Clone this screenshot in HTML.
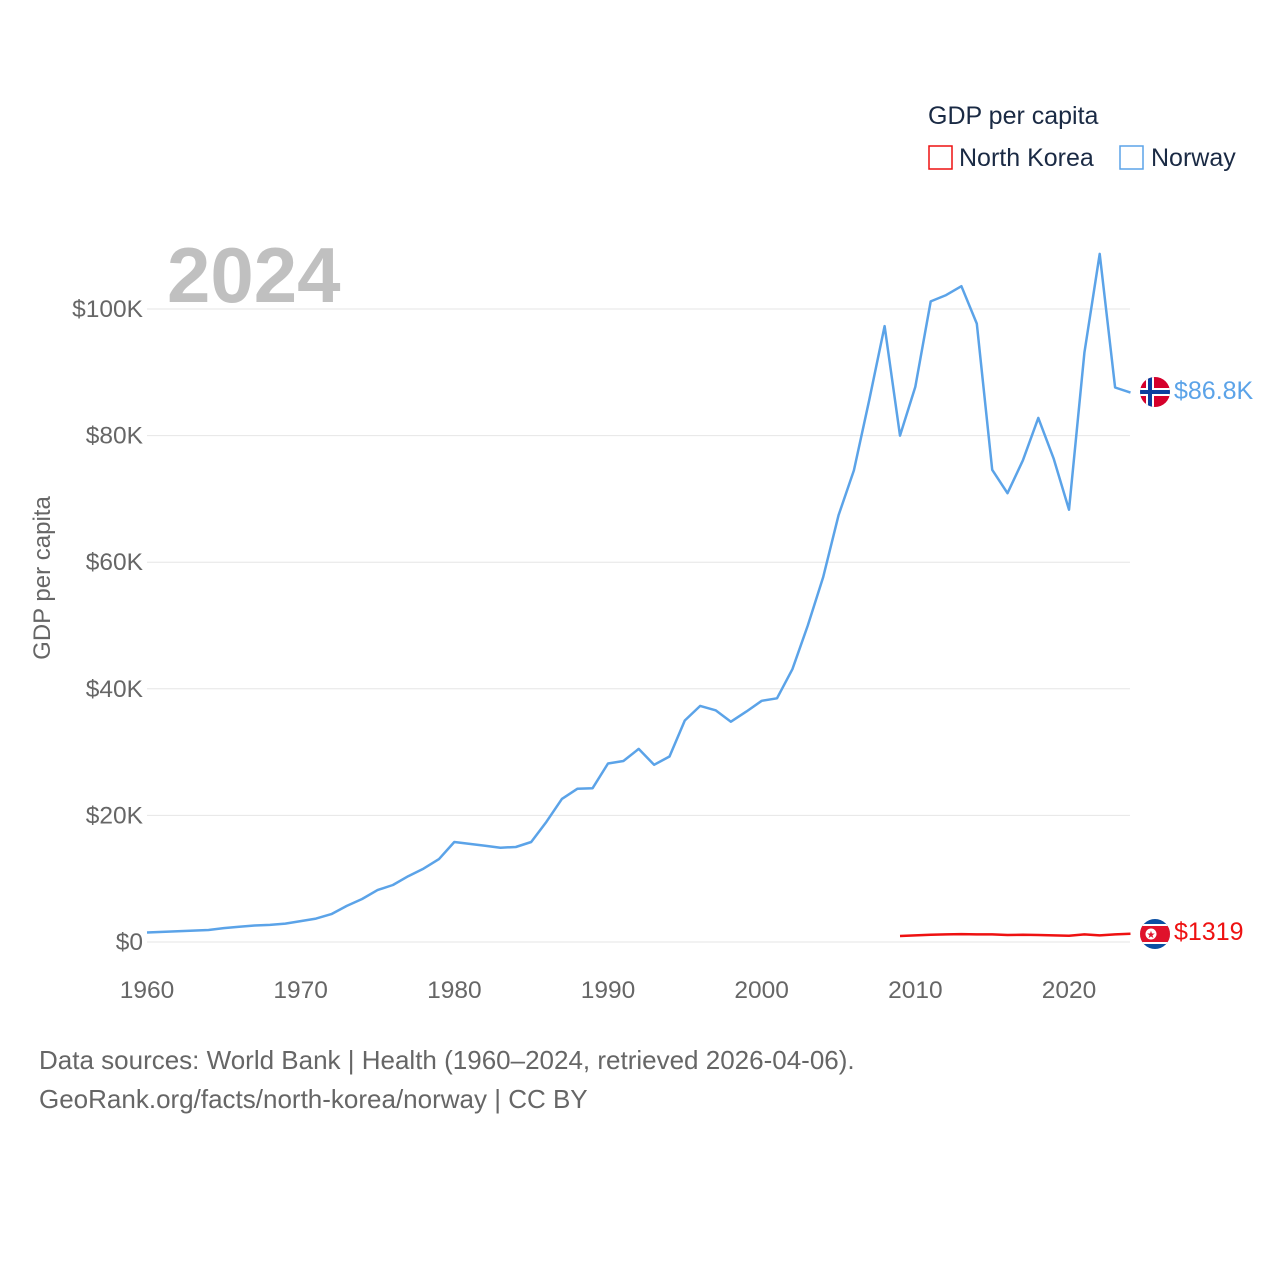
<!DOCTYPE html>
<html><head><meta charset="utf-8"><style>
body{margin:0;background:#fff;font-family:"Liberation Sans",sans-serif;}
svg text{font-family:"Liberation Sans",sans-serif;}
</style></head><body>
<svg width="1280" height="1280" viewBox="0 0 1280 1280">
<defs>
<clipPath id="cno"><circle cx="1155" cy="392" r="15"/></clipPath>
<clipPath id="ckp"><circle cx="1155" cy="934" r="15"/></clipPath>
</defs>
<text x="928" y="124" font-size="25" fill="#1a2a44">GDP per capita</text>
<g><rect x="929" y="146" width="23" height="23" fill="none" stroke="#ee1111" stroke-width="1.5"/><text x="959" y="166" font-size="25" fill="#1a2a44">North Korea</text></g>
<g><rect x="1120" y="146" width="23" height="23" fill="none" stroke="#5ba3e8" stroke-width="1.5"/><text x="1151" y="166" font-size="25" fill="#1a2a44">Norway</text></g>
<text x="167" y="302" font-size="78" font-weight="bold" fill="#c0c0c0">2024</text>
<text transform="translate(50,578) rotate(-90)" text-anchor="middle" font-size="24" fill="#666">GDP per capita</text>
<g id="grid"></g><g id="yt"></g><g id="xt"></g><g id="lines"></g>
<g clip-path="url(#cno)"><rect x="1140" y="377" width="30" height="30" fill="#d5002b"/><rect x="1140" y="388" width="30" height="8" fill="#fff"/><rect x="1146" y="377" width="8" height="30" fill="#fff"/><rect x="1140" y="390" width="30" height="4" fill="#0b3f9e"/><rect x="1148" y="377" width="4" height="30" fill="#0b3f9e"/></g>
<text x="1174" y="399" font-size="25" fill="#5ba3e8">$86.8K</text>
<g clip-path="url(#ckp)"><rect x="1140" y="919" width="30" height="30" fill="#0a4ea2"/><rect x="1140" y="924" width="30" height="20" fill="#fff"/><rect x="1140" y="926" width="30" height="16" fill="#e0122b"/><circle cx="1151" cy="934" r="5.5" fill="#fff"/><text x="1151" y="938" font-size="10" fill="#e0122b" text-anchor="middle">★</text></g>
<text x="1174" y="940" font-size="25" fill="#ee1111">$1319</text>
<text x="39" y="1069" font-size="26" fill="#666">Data sources: World Bank | Health (1960–2024, retrieved 2026-04-06).</text>
<text x="39" y="1108" font-size="26" fill="#666">GeoRank.org/facts/north-korea/norway | CC BY</text>
</svg>
<script>
const yTicks=[0,20,40,60,80,100];
const yTickLabels=["$0","$20K","$40K","$60K","$80K","$100K"];
const xTicks=[1960,1970,1980,1990,2000,2010,2020];
const norwayYears=[1960,1961,1962,1963,1964,1965,1966,1967,1968,1969,1970,1971,1972,1973,1974,1975,1976,1977,1978,1979,1980,1981,1982,1983,1984,1985,1986,1987,1988,1989,1990,1991,1992,1993,1994,1995,1996,1997,1998,1999,2000,2001,2002,2003,2004,2005,2006,2007,2008,2009,2010,2011,2012,2013,2014,2015,2016,2017,2018,2019,2020,2021,2022,2023,2024];
const norwayValues=[1.5,1.6,1.7,1.8,1.9,2.2,2.4,2.6,2.7,2.9,3.3,3.7,4.4,5.7,6.8,8.2,9.0,10.4,11.6,13.1,15.8,15.5,15.2,14.9,15.0,15.8,19.0,22.6,24.2,24.3,28.2,28.6,30.5,28.0,29.3,35.0,37.3,36.6,34.8,36.4,38.1,38.5,43.1,50.0,57.6,67.4,74.5,85.6,97.3,80.0,87.7,101.2,102.2,103.6,97.7,74.6,70.9,76.1,82.8,76.4,68.3,93.1,108.7,87.6,86.8];
const nkYears=[2009,2010,2011,2012,2013,2014,2015,2016,2017,2018,2019,2020,2021,2022,2023,2024];
const nkValues=[0.95,1.05,1.15,1.2,1.25,1.2,1.2,1.1,1.15,1.1,1.05,1.0,1.2,1.05,1.2,1.319];
const NS="http://www.w3.org/2000/svg";
const xs=y=>147+(y-1960)*(922/60);
const ys=v=>942-v*6.33;
function mk(t,a,p){const e=document.createElementNS(NS,t);for(const k in a)e.setAttribute(k,a[k]);p.appendChild(e);return e;}
const grid=document.getElementById('grid'),yt=document.getElementById('yt'),xt=document.getElementById('xt'),lines=document.getElementById('lines');
yTicks.forEach((v,i)=>{
 const l=mk('line',{x1:147,x2:1130,y1:ys(v),y2:ys(v),stroke:'#e6e6e6','stroke-width':1},grid);
 
 
 const t=mk('text',{x:143,y:ys(v)+8,'text-anchor':'end','font-size':24.5,fill:'#666'},yt);
 t.textContent=yTickLabels[i];
 
 
});
xTicks.forEach(y=>{
 const t=mk('text',{x:xs(y),y:998,'text-anchor':'middle','font-size':24.5,fill:'#666'},xt);
 t.textContent=y;
 
 
});
function path(yrs,vals,col,name){
 const d=yrs.map((y,i)=>(i?'L':'M')+xs(y).toFixed(1)+' '+ys(vals[i]).toFixed(1)).join(' ');
 const p=mk('path',{d:d,fill:'none',stroke:col,'stroke-width':2.5,'stroke-linejoin':'round'},lines);
 
 
}
path(norwayYears,norwayValues,'#5ba3e8','norway-line');
path(nkYears,nkValues,'#ee1111','north-korea-line');
</script>
</body></html>
